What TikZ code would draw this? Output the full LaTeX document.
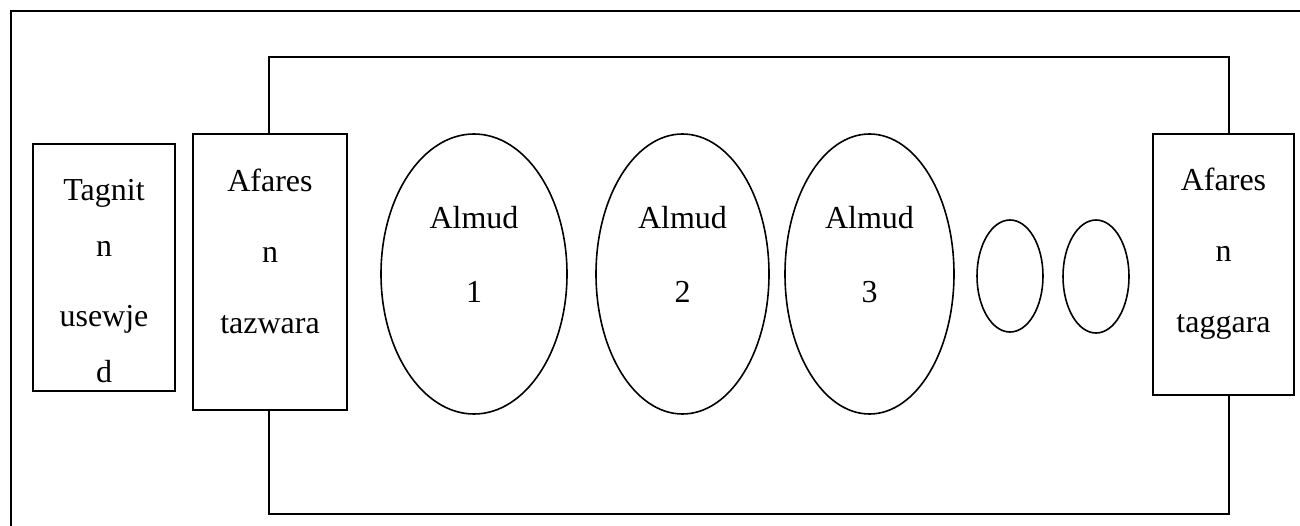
\documentclass[tikz,border=0pt]{standalone}
\usepackage{fontspec}
\setmainfont{Liberation Serif}
\usetikzlibrary{shapes.geometric}
\begin{document}
\begin{tikzpicture}[x=1pt,y=-1pt,
  boxst/.style={draw, line width=1.6pt, fill=white, rectangle, inner sep=0pt},
  ellst/.style={draw, line width=1.6pt, ellipse, inner sep=0pt},
  txt/.style={anchor=base, inner sep=0pt, font=\fontsize{32}{38}\selectfont},
  wire/.style={line width=1.6pt}]
\useasboundingbox (0,0) rectangle (1300,526);
\begin{scope}
\clip (0,0) rectangle (1300,526);
\draw[line width=2.2pt] (11,11) rectangle (1320,546);
\end{scope}
% loop corners
\coordinate (c1) at (269,57);
\coordinate (c2) at (1229,57);
\coordinate (c3) at (1229,514);
\coordinate (c4) at (269,514);
% boxes
\node[boxst, minimum width=142pt, minimum height=247pt] (tag) at (104,267.5) {};
\node[boxst, minimum width=154pt, minimum height=276pt] (taz) at (270,272) {};
\node[boxst, minimum width=141pt, minimum height=261pt] (tga) at (1223.5,264.5) {};
% loop connectors
\draw[wire] (taz.north -| c1) -- (c1) -- (c2) -- (tga.north -| c2);
\draw[wire] (taz.south -| c4) -- (c4) -- (c3) -- (tga.south -| c3);
% ellipses
\node[ellst, minimum width=186pt, minimum height=280pt] (e1) at (474,274) {};
\node[ellst, minimum width=173pt, minimum height=280pt] (e2) at (682.5,274) {};
\node[ellst, minimum width=169pt, minimum height=280pt] (e3) at (869.5,274) {};
\node[ellst, minimum width=66pt, minimum height=112pt] (e4) at (1010,276) {};
\node[ellst, minimum width=66pt, minimum height=113pt] (e5) at (1096,276.5) {};
% texts
\node[txt] (t1) at (104,200.5) {Tagnit};
\node[txt] (t2) at (104,256.5) {n};
\node[txt] (t3) at (104,326.5) {usewje};
\node[txt] (t4) at (104,382.5) {d};
\node[txt] (a1) at (270,192) {Afares};
\node[txt] (a2) at (270,263) {n};
\node[txt] (a3) at (270,334) {tazwara};
\node[txt] (b1) at (1223.5,191) {Afares};
\node[txt] (b2) at (1223.5,262) {n};
\node[txt] (b3) at (1223.5,333) {taggara};
\node[txt] (m1) at (474,229) {Almud};
\node[txt] (n1) at (474,302) {1};
\node[txt] (m2) at (682.5,229) {Almud};
\node[txt] (n2) at (682.5,302) {2};
\node[txt] (m3) at (869.5,229) {Almud};
\node[txt] (n3) at (869.5,302) {3};
\end{tikzpicture}
\end{document}
